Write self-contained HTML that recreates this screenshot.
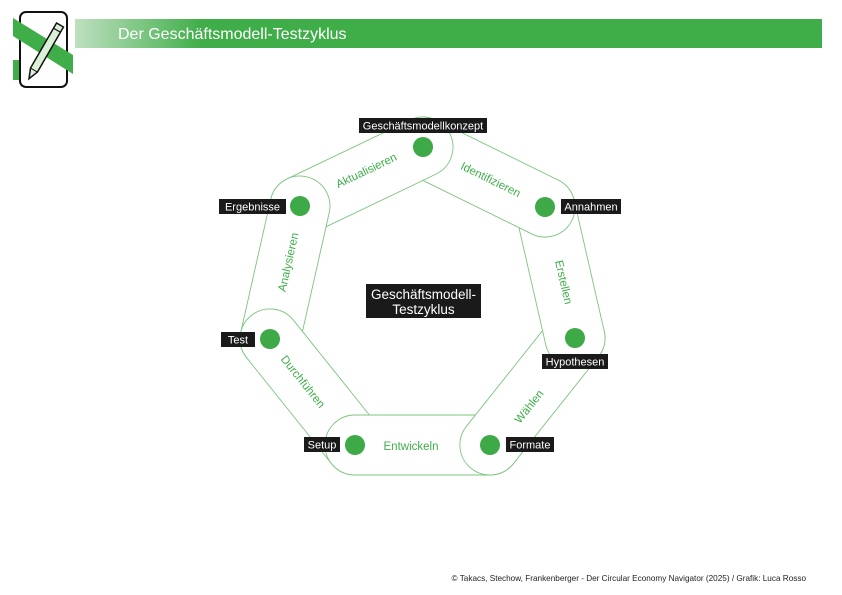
<!DOCTYPE html>
<html><head><meta charset="utf-8"><style>
html,body{margin:0;padding:0;background:#fff;}
body{width:842px;height:595px;position:relative;overflow:hidden;font-family:"Liberation Sans",sans-serif;}
</style></head><body>
<svg width="842" height="595" viewBox="0 0 842 595" xmlns="http://www.w3.org/2000/svg" style="position:absolute;left:0;top:0">
<defs>
<linearGradient id="hg" x1="0" x2="1" y1="0" y2="0">
<stop offset="0" stop-color="#bfe0c0"/><stop offset="0.17" stop-color="#3fae49"/><stop offset="1" stop-color="#3fae49"/>
</linearGradient>
<clipPath id="lc"><rect x="0" y="380" width="420" height="120"/></clipPath>
</defs>
<rect x="75" y="19" width="747" height="29" fill="url(#hg)"/>
<text x="118" y="39" font-size="16" fill="#fff" font-family="Liberation Sans, sans-serif">Der Geschäftsmodell-Testzyklus</text>
<!-- icon -->
<rect x="13" y="60" width="8" height="20" fill="#3fae49"/>
<rect x="20" y="12" width="47" height="75" rx="6" fill="#fff" stroke="#111" stroke-width="2"/>
<polygon points="13,18 73,55 73,74 13,36" fill="#3fae49"/>
<g transform="translate(45,51) rotate(30)">
<polygon points="-4,-30 4,-30 4,22 0,32 -4,22" fill="#d9efd6" stroke="#111" stroke-width="1.5"/>
<line x1="-4" y1="-24" x2="4" y2="-24" stroke="#111" stroke-width="1.2"/>
<line x1="-4" y1="22" x2="4" y2="22" stroke="#111" stroke-width="1"/>
</g>
<!-- capsules -->
<g fill="#fff" stroke="#7cc47f" stroke-width="0.9">
<rect x="-30" y="-30" width="195" height="60" rx="30" transform="translate(490,445) rotate(180)"/>
<rect x="-30" y="-30" width="196.7" height="60" rx="30" transform="translate(575,338) rotate(128.5)"/>
<rect x="-30" y="-30" width="194.4" height="60" rx="30" transform="translate(545,207) rotate(77.1)"/>
<rect x="-30" y="-30" width="196" height="60" rx="30" transform="translate(423,147) rotate(26.2)"/>
<rect x="-30" y="-30" width="196.4" height="60" rx="30" transform="translate(300,206) rotate(-25.6)"/>
<rect x="-30" y="-30" width="196.3" height="60" rx="30" transform="translate(270,339) rotate(-77.3)"/>
<rect x="-30" y="-30" width="195.9" height="60" rx="30" transform="translate(355,445) rotate(-128.7)"/>
<g clip-path="url(#lc)"><rect x="-30" y="-30" width="195" height="60" rx="30" transform="translate(490,445) rotate(180)"/></g>
</g>
<!-- labels on edges -->
<g fill="#3fae49" font-size="11.5" text-anchor="middle" font-family="Liberation Sans, sans-serif">
<text transform="translate(368,174) rotate(-25.6)">Aktualisieren</text>
<text transform="translate(489,183) rotate(26.2)">Identifizieren</text>
<text transform="translate(560,283) rotate(77.1)">Erstellen</text>
<text transform="translate(532,409) rotate(-51.5)">Wählen</text>
<text transform="translate(411,450)">Entwickeln</text>
<text transform="translate(300,384) rotate(51.3)">Durchführen</text>
<text transform="translate(292,263) rotate(-77.3)">Analysieren</text>
</g>
<!-- dots -->
<g fill="#3daa47">
<circle cx="423" cy="147" r="10"/><circle cx="545" cy="207" r="10"/><circle cx="575" cy="338" r="10"/>
<circle cx="490" cy="445" r="10"/><circle cx="355" cy="445" r="10"/><circle cx="270" cy="339" r="10"/><circle cx="300" cy="206" r="10"/>
</g>
<!-- node labels -->
<g font-size="11" fill="#fff" font-family="Liberation Sans, sans-serif">
<rect x="359" y="118" width="128" height="15" fill="#1a1a1a"/><text x="423" y="129.5" text-anchor="middle">Geschäftsmodellkonzept</text>
<rect x="561" y="199" width="60" height="15" fill="#1a1a1a"/><text x="591" y="210.5" text-anchor="middle">Annahmen</text>
<rect x="542" y="354" width="66" height="15" fill="#1a1a1a"/><text x="575" y="365.5" text-anchor="middle">Hypothesen</text>
<rect x="506" y="437" width="48" height="15" fill="#1a1a1a"/><text x="530" y="448.5" text-anchor="middle">Formate</text>
<rect x="304" y="437" width="36" height="15" fill="#1a1a1a"/><text x="322" y="448.5" text-anchor="middle">Setup</text>
<rect x="221" y="332" width="34" height="15" fill="#1a1a1a"/><text x="238" y="343.5" text-anchor="middle">Test</text>
<rect x="219" y="199" width="67" height="15" fill="#1a1a1a"/><text x="252.5" y="210.5" text-anchor="middle">Ergebnisse</text>
<rect x="366" y="284" width="115" height="34" fill="#1a1a1a"/>
<text x="423.5" y="299" text-anchor="middle" font-size="13.5">Geschäftsmodell-</text>
<text x="423.5" y="314" text-anchor="middle" font-size="13.5">Testzyklus</text>
</g>
<text x="806" y="581" text-anchor="end" font-size="8.2" fill="#222" font-family="Liberation Sans, sans-serif">© Takacs, Stechow, Frankenberger - Der Circular Economy Navigator (2025) / Grafik: Luca Rosso</text>
</svg>
</body></html>
